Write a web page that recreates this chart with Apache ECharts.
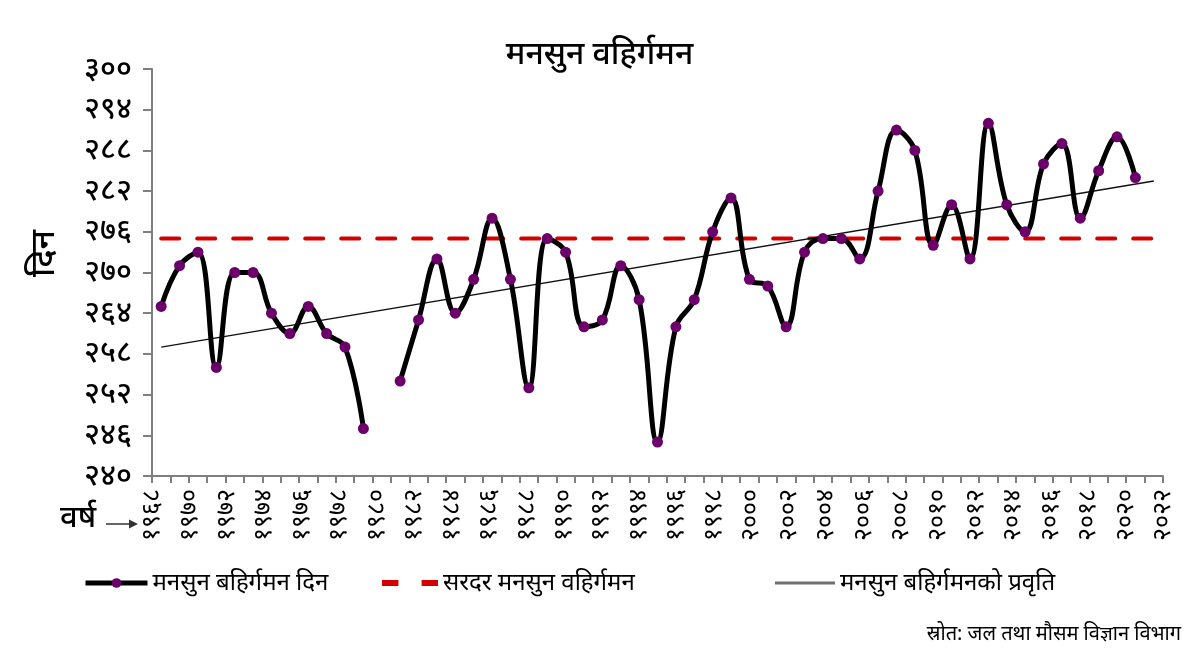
<!DOCTYPE html>
<html>
<head>
<meta charset="utf-8">
<script src="https://cdn.jsdelivr.net/npm/echarts@6/dist/echarts.min.js"></script>
<style>
html,body{margin:0;padding:0;background:#fff;}
#chart{width:1199px;height:666px;}
</style>
</head>
<body>
<div id="chart"></div>
<script>
// ---- data ----
const years = [1968,1969,1970,1971,1972,1973,1974,1975,1976,1977,1978,1979,1980,1981,1982,1983,1984,1985,1986,1987,1988,1989,1990,1991,1992,1993,1994,1995,1996,1997,1998,1999,2000,2001,2002,2003,2004,2005,2006,2007,2008,2009,2010,2011,2012,2013,2014,2015,2016,2017,2018,2019,2020,2021,2022];
const withdrawalDays = [265,271,273,256,270,270,264,261,265,261,259,247,null,254,263,272,264,269,278,269,253,275,273,262,263,271,266,245,262,266,276,281,269,268,262,273,275,275,272,282,291,288,274,280,272,292,280,276,286,289,278,285,290,284,null];
const averageDay = 275;
const trendStart = 259.0;
const trendEnd = 283.5;
const yTicks = [240,246,252,258,264,270,276,282,288,294,300];

const titleText = 'मनसुन वहिर्गमन';
const seriesNames = ['मनसुन बहिर्गमन दिन','सरदर मनसुन वहिर्गमन','मनसुन बहिर्गमनको प्रवृति'];
const yName = 'दिन';
const xName = 'वर्ष';
const sourceText = 'स्रोत: जल तथा मौसम विज्ञान विभाग';

const devDigits = ['०','१','२','३','४','५','६','७','८','९'];
function toDev(n){ return String(n).replace(/[0-9]/g, d => devDigits[+d]); }

const avgData = years.map((y,i) => (i===0 || i===years.length-1) ? averageDay : null);
const trendData = years.map((y,i) => i===0 ? trendStart : (i===years.length-1 ? trendEnd : null));

const FONT = "'Noto Sans', 'Noto Sans Devanagari', sans-serif";
const legendText = { fontFamily: FONT, fontSize: 24, color: '#000' };
const chart = echarts.init(document.getElementById('chart'));
chart.setOption({
  animation: false,
  backgroundColor: '#ffffff',
  textStyle: { fontFamily: FONT, color: '#000' },
  title: {
    text: titleText, left: 'center', top: 34,
    textStyle: { fontFamily: FONT, fontSize: 32, fontWeight: 500, color: '#000' }
  },
  grid: { left: 152, right: 36, top: 69, bottom: 190 },
  xAxis: [{
    type: 'category',
    data: years.map(String),
    boundaryGap: true,
    axisLine: { lineStyle: { color: '#7f7f7f', width: 2 } },
    axisTick: { show: true, interval: 0, length: 7, lineStyle: { color: '#7f7f7f', width: 2 } },
    axisLabel: { show: false },
    splitLine: { show: false }
  },{
    type: 'category',
    position: 'bottom',
    offset: 0,
    data: years,
    boundaryGap: false,
    axisLine: { show: false },
    axisTick: { show: false },
    axisLabel: {
      interval: 1, rotate: 90, margin: 13,
      fontFamily: FONT, fontSize: 25, color: '#000',
      formatter: v => toDev(v)
    },
    splitLine: { show: false }
  }],
  yAxis: {
    type: 'value', min: yTicks[0], max: yTicks[yTicks.length-1], interval: 6,
    axisLine: { show: true, lineStyle: { color: '#7f7f7f', width: 2 } },
    axisTick: { show: true, length: 9, lineStyle: { color: '#7f7f7f', width: 2 } },
    axisLabel: { margin: 20, fontFamily: FONT, fontSize: 30, fontWeight: 500, color: '#000', formatter: v => toDev(v) },
    splitLine: { show: false }
  },
  legend: [
    { data: [{ name: seriesNames[0], lineStyle: { color: '#000', width: 5 }, itemStyle: { color: '#6b006b' } }],
      left: 78, top: 566, itemWidth: 62, itemHeight: 12, itemGap: 6, textStyle: legendText },
    { data: [{ name: seriesNames[1], icon: 'path://M0,0h17v6h-17z M41,0h17v6h-17z', itemStyle: { color: '#d40000' } }],
      left: 377, top: 566, itemWidth: 56, itemHeight: 6, textStyle: legendText },
    { data: [{ name: seriesNames[2], icon: 'path://M0,0h60v3h-60z', itemStyle: { color: '#6f6f6f' } }],
      left: 770, top: 566, itemWidth: 60, itemHeight: 3, textStyle: legendText }
  ],
  series: [
    {
      name: seriesNames[0], type: 'line', xAxisIndex: 0,
      data: withdrawalDays, smooth: 0.4, connectNulls: false,
      symbol: 'circle', symbolSize: 11,
      lineStyle: { color: '#000', width: 5 },
      itemStyle: { color: '#6b006b' },
      z: 5
    },
    {
      name: seriesNames[1], type: 'line', xAxisIndex: 0,
      data: avgData, connectNulls: true, symbol: 'none',
      lineStyle: { color: '#d40000', width: 4, type: [18, 18], cap: 'round' },
      itemStyle: { color: '#d40000' },
      z: 3
    },
    {
      name: seriesNames[2], type: 'line', xAxisIndex: 0,
      data: trendData, connectNulls: true, symbol: 'none',
      lineStyle: { color: '#111', width: 1.5 },
      itemStyle: { color: '#333' },
      z: 4
    }
  ],
  graphic: [
    { type: 'text', left: 27, top: 230, rotation: Math.PI/2,
      style: { text: yName, font: "500 34px 'Noto Sans', sans-serif", fill: '#000' } },
    { type: 'text', left: 60, top: 503,
      style: { text: xName, font: "500 31px 'Noto Sans', sans-serif", fill: '#000' } },
    { type: 'line', shape: { x1: 106, y1: 524, x2: 136, y2: 524 },
      style: { stroke: '#333', lineWidth: 1.5 } },
    { type: 'polygon', shape: { points: [[138,524],[129,519.5],[129,528.5]] },
      style: { fill: '#333' } },
    { type: 'text', right: 18, top: 624,
      style: { text: sourceText, font: "20px 'Noto Sans', sans-serif", fill: '#000' } }
  ]
});
</script>
</body>
</html>
